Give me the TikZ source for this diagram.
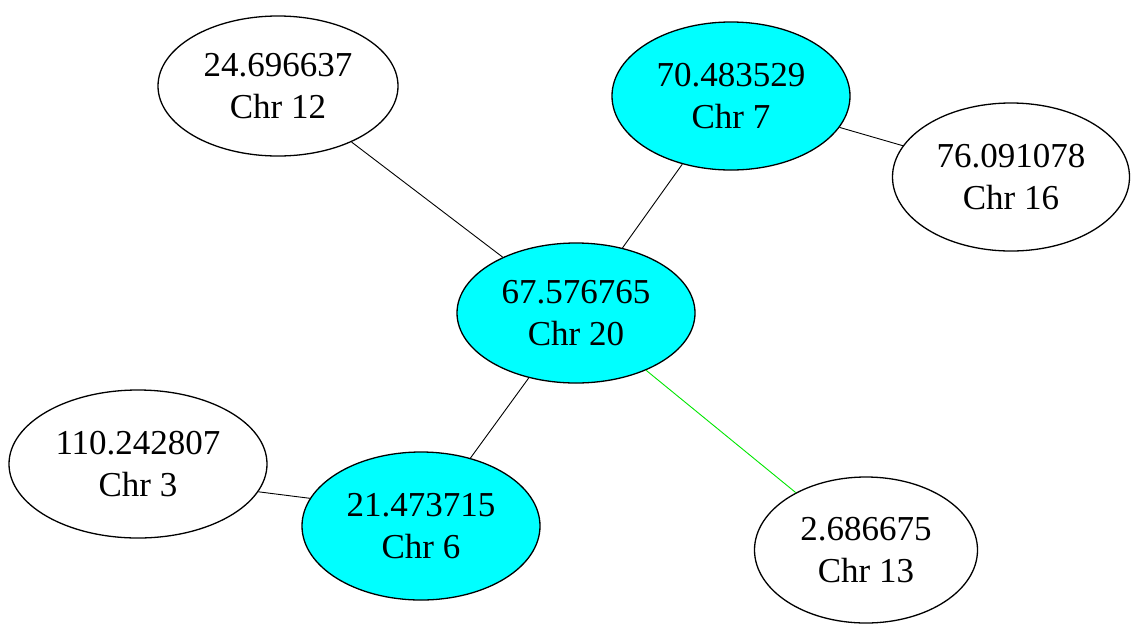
\documentclass[tikz,border=0pt]{standalone}
\usepackage{fontspec}
\setmainfont{Liberation Serif}
\usetikzlibrary{shapes.geometric}
\begin{document}
\begin{tikzpicture}[x=1pt,y=-1pt,
  chr/.style={ellipse, draw=black, line width=1.3pt, inner sep=0pt,
    align=center, font=\fontsize{35}{42}\selectfont},
  hit/.style={chr, fill={rgb,255:red,0;green,255;blue,255}},
  link/.style={draw=black, line width=0.9pt},
  glink/.style={draw={rgb,255:red,0;green,230;blue,0}, line width=0.9pt}]
\useasboundingbox (0,0) rectangle (1135,625);
% chromosome nodes
\node[chr, minimum width=240pt, minimum height=140pt] (c12) at (278,86) {24.696637\\Chr 12};
\node[hit, minimum width=238pt, minimum height=148pt] (c7) at (731,96) {70.483529\\Chr 7};
\node[chr, minimum width=237pt, minimum height=148pt] (c16) at (1011,177) {76.091078\\Chr 16};
\node[hit, minimum width=238pt, minimum height=140pt] (c20) at (576,313) {67.576765\\Chr 20};
\node[chr, minimum width=258pt, minimum height=148pt] (c3) at (138,464) {110.242807\\Chr 3};
\node[hit, minimum width=238pt, minimum height=148pt] (c6) at (421,526) {21.473715\\Chr 6};
\node[chr, minimum width=223pt, minimum height=146pt] (c13) at (866,550) {2.686675\\Chr 13};
% connections
\draw[link] (c12) -- (c20);
\draw[link] (c7) -- (c20);
\draw[link] (c7) -- (c16);
\draw[link] (c20) -- (c6);
\draw[link] (c3.-13) -- (c6.166);
\draw[glink] (c20) -- (c13);
\end{tikzpicture}
\end{document}
